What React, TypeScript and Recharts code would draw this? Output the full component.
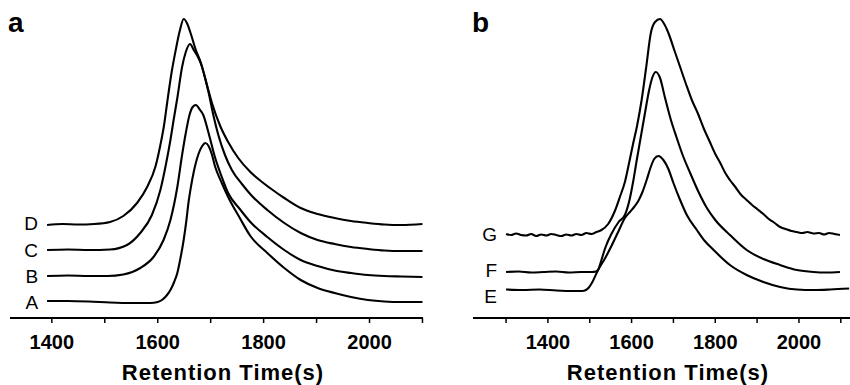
import React from 'react';
import { LineChart, Line, XAxis, YAxis, Label } from 'recharts';

type Pt = [number, number];

// ---------- Panel a ----------
const ticksA = [1400, 1500, 1600, 1700, 1800, 1900, 2000, 2100];
const curveA: Pt[] = [
  [1391, 17], [1430, 17], [1470, 16.5], [1510, 15.5], [1550, 15], [1586, 15], [1600, 16], [1608, 18],
  [1616, 22], [1624, 28], [1631, 36], [1637, 45], [1643, 60], [1649, 78], [1654, 97], [1658, 115],
  [1663, 132], [1668, 146], [1677, 164], [1684, 172], [1690, 175], [1696, 172], [1702, 164], [1708, 152],
  [1721, 135], [1733, 121], [1755, 100], [1775, 82], [1807, 65], [1839, 50], [1870, 38], [1902, 30],
  [1934, 25], [1965, 21], [1997, 18], [2028, 16.5], [2060, 16], [2100, 16],
];
const curveB: Pt[] = [
  [1391, 42], [1430, 42.5], [1470, 42], [1505, 42], [1535, 43.5], [1567, 50], [1592, 61], [1611, 78],
  [1624, 98], [1637, 131], [1646, 163], [1653, 185], [1660, 203], [1666, 211], [1672, 213], [1680, 208],
  [1686, 203], [1696, 185], [1708, 161], [1721, 141], [1733, 125], [1755, 109], [1775, 96], [1807, 81],
  [1839, 68], [1870, 58], [1902, 52], [1934, 47.5], [1965, 45], [1997, 43], [2028, 42], [2060, 41.5], [2100, 41],
];
const curveC: Pt[] = [
  [1391, 68], [1430, 68.5], [1470, 68], [1510, 68.5], [1542, 73], [1567, 85], [1589, 103], [1605, 128],
  [1616, 155], [1624, 178], [1630, 198], [1637, 220], [1646, 251], [1653, 266], [1661, 274], [1668, 268],
  [1675, 262], [1681, 255], [1695, 228], [1705, 203], [1715, 182], [1727, 163], [1740, 148], [1759, 134],
  [1778, 122], [1807, 108], [1839, 95], [1870, 85], [1902, 78], [1934, 74], [1965, 71], [1997, 69],
  [2028, 67.5], [2060, 67], [2100, 67],
];
const curveD: Pt[] = [
  [1391, 93], [1420, 94], [1450, 93.5], [1480, 94], [1510, 96], [1535, 102], [1561, 115], [1580, 131],
  [1596, 152], [1605, 173], [1612, 193], [1618, 216], [1626, 245], [1634, 268], [1642, 288], [1649, 299],
  [1656, 294], [1662, 285], [1672, 268], [1681, 256], [1695, 229], [1703, 214], [1718, 192], [1733, 176],
  [1752, 160], [1775, 146], [1797, 136], [1812, 130], [1839, 120], [1870, 110], [1902, 104], [1934, 100],
  [1965, 97], [1997, 95], [2028, 93.5], [2060, 93], [2100, 94],
];

// ---------- Panel b ----------
const ticksB = [1300, 1400, 1500, 1600, 1700, 1800, 1900, 2000, 2100];
const curveE: Pt[] = [
  [1300, 28.5], [1340, 28], [1380, 28.5], [1420, 27.5], [1460, 27], [1482, 27], [1491, 28], [1498, 30.5],
  [1505, 35], [1520, 48], [1537, 60], [1553, 73], [1569, 87], [1584, 100], [1596, 106], [1606, 111],
  [1616, 117], [1626, 126], [1636, 138], [1645, 150], [1654, 159], [1664, 162], [1676, 158], [1688, 149],
  [1700, 135], [1716, 118], [1732, 103], [1756, 88], [1775, 77], [1796, 68], [1835, 53], [1875, 43],
  [1915, 36], [1955, 31], [1995, 28.5], [2035, 28], [2075, 28.5], [2120, 29.5],
];
const curveF: Pt[] = [
  [1300, 46], [1330, 46.5], [1360, 45.5], [1390, 46], [1420, 46.5], [1450, 45.5], [1480, 46], [1505, 46],
  [1515, 46.5], [1521, 49], [1528, 58], [1537, 70], [1553, 85], [1569, 96], [1584, 103], [1595, 118],
  [1604, 137], [1612, 157], [1622, 181], [1632, 205], [1642, 228], [1650, 241], [1658, 246], [1668, 240],
  [1680, 220], [1694, 198], [1708, 180], [1722, 163], [1740, 145], [1760, 126], [1780, 110], [1800, 98],
  [1835, 83], [1875, 68], [1915, 59], [1955, 53], [1995, 48], [2035, 46], [2065, 45.5], [2098, 46],
];
const curveG: Pt[] = [
  [1300, 84], [1312, 83], [1324, 84.5], [1336, 83], [1348, 82.5], [1360, 84], [1372, 82], [1384, 83.5],
  [1396, 82.5], [1408, 84], [1420, 83], [1432, 82], [1444, 83.5], [1456, 82.5], [1468, 84], [1480, 83],
  [1492, 85], [1504, 84], [1516, 86], [1528, 88], [1544, 94], [1560, 107], [1572, 121], [1584, 136],
  [1594, 155], [1603, 173], [1613, 192], [1624, 218], [1635, 251], [1646, 285], [1656, 296], [1668, 299],
  [1678, 294], [1688, 285], [1702, 268], [1716, 251], [1730, 234], [1744, 218], [1758, 205], [1772, 190],
  [1786, 177], [1800, 164], [1812, 155], [1824, 145], [1835, 138], [1848, 131], [1860, 124], [1875, 118],
  [1888, 113], [1900, 109], [1915, 104], [1928, 99], [1942, 95], [1955, 91], [1968, 89], [1982, 87],
  [1995, 86], [2008, 85], [2020, 86], [2035, 84.5], [2048, 85], [2060, 83.5], [2072, 85], [2085, 84], [2098, 83],
];

const FONT = '"Liberation Sans", Arial, Helvetica, sans-serif';
const toRows = (pts: Pt[]) => pts.map(([t, v]) => ({ t, v }));

const makeLabel = (text: string, dy: number) => (props: any) => {
  const { index, x, y } = props;
  if (index !== 0) return null;
  return (
    <text
      key={text}
      x={x - 9}
      y={y + dy}
      textAnchor="end"
      dominantBaseline="central"
      fontSize={19}
      fontFamily={FONT}
      fill="#000"
    >
      {text}
    </text>
  );
};

interface Series { name: string; data: Pt[]; labelDy: number }

const seriesA: Series[] = [
  { name: 'A', data: curveA, labelDy: 1.5 },
  { name: 'B', data: curveB, labelDy: 0 },
  { name: 'C', data: curveC, labelDy: 0 },
  { name: 'D', data: curveD, labelDy: -2 },
];
const seriesB: Series[] = [
  { name: 'E', data: curveE, labelDy: 7 },
  { name: 'F', data: curveF, labelDy: -2 },
  { name: 'G', data: curveG, labelDy: 0 },
];

function Panel({
  series, ticks, domain, width, marginLeft, marginRight,
}: {
  series: Series[]; ticks: number[]; domain: [number, number]; width: number; marginLeft: number; marginRight: number;
}) {
  return (
    <LineChart width={width} height={385} margin={{ top: 8, right: marginRight, bottom: 0, left: marginLeft }}>
      <XAxis
        type="number"
        dataKey="t"
        domain={domain}
        ticks={ticks}
        allowDataOverflow
        interval={0}
        height={67}
        tickSize={5}
        tickMargin={12}
        tickFormatter={(v: number) => (v % 200 === 0 ? String(v) : '')}
        axisLine={{ stroke: '#000', strokeWidth: 2 }}
        tickLine={{ stroke: '#000', strokeWidth: 1.5 }}
        tick={{ fontSize: 20, fontWeight: 'bold', fill: '#000', fontFamily: FONT }}
      >
        <Label
          value="Retention Time(s)"
          position="insideBottom"
          offset={5}
          dx={6.5}
          fontSize={22}
          fontWeight="bold"
          fill="#000"
          fontFamily={FONT}
          letterSpacing={1}
        />
      </XAxis>
      <YAxis type="number" hide domain={[0, 310]} allowDataOverflow />
      {series.map((s) => (
        <Line
          key={s.name}
          data={toRows(s.data)}
          dataKey="v"
          type="monotone"
          stroke="#000"
          strokeWidth={2.1}
          dot={false}
          activeDot={false}
          isAnimationActive={false}
          label={makeLabel(s.name, s.labelDy)}
        />
      ))}
    </LineChart>
  );
}

export default function App() {
  return (
    <div style={{ position: 'absolute', left: 0, top: 0, width: 850, height: 385, background: '#fff', overflow: 'hidden' }}>
      <div style={{ position: 'absolute', left: 0, top: 0 }}>
        <Panel series={seriesA} ticks={ticksA} domain={[1321, 2101]} width={430} marginLeft={10} marginRight={7} />
      </div>
      <div style={{ position: 'absolute', left: 430, top: 0 }}>
        <Panel series={seriesB} ticks={ticksB} domain={[1221, 2122]} width={420} marginLeft={43} marginRight={0} />
      </div>
      <div style={{ position: 'absolute', left: 8, top: 9, fontFamily: FONT, fontWeight: 'bold', fontSize: 28, lineHeight: 1 }}>a</div>
      <div style={{ position: 'absolute', left: 472, top: 9, fontFamily: FONT, fontWeight: 'bold', fontSize: 28, lineHeight: 1 }}>b</div>
    </div>
  );
}
